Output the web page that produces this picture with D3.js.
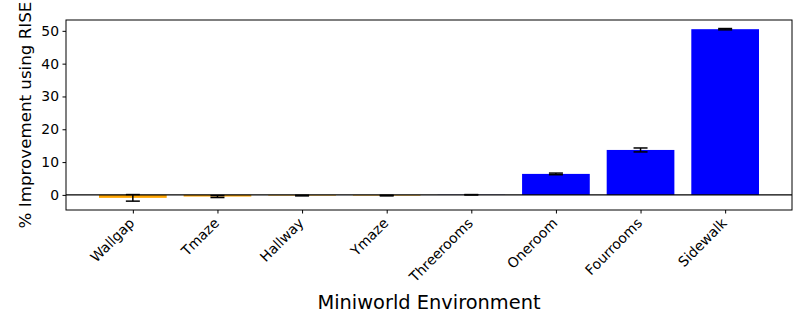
<!DOCTYPE html>
<html>
<head>
<meta charset="utf-8">
<script src="https://cdn.jsdelivr.net/npm/d3@7"></script>
<style>
  body { margin: 0; background: #fff; }
  text { font-family: "DejaVu Sans", sans-serif; fill: #000; }
</style>
</head>
<body>
<div class="chart"></div>
<script>
const width = 807;
const height = 314;
const margin = {top: 20, right: 15, bottom: 104, left: 66};

// data
const envs = ["Wallgap", "Tmaze", "Hallway", "Ymaze", "Threerooms", "Oneroom", "Fourrooms", "Sidewalk"];
const improvement = [-0.9, -0.5, -0.2, -0.2, 0.05, 6.4, 13.7, 50.5];
const errors = [1.0, 0.3, 0.1, 0.1, 0.05, 0.25, 0.6, 0.2];
const yTicks = [0, 10, 20, 30, 40, 50];

const svg = d3.select(".chart")
  .append("svg")
  .attr("width", width)
  .attr("height", height);

const x = d3.scaleLinear()
  .domain([-0.79, envs.length - 1 + 0.79])
  .range([margin.left, width - margin.right]);
const y = d3.scaleLinear()
  .domain([-4.6, 53.3])
  .range([height - margin.bottom, margin.top]);
const barW = x(0.8) - x(0);

//Bars
svg.selectAll(".bar")
  .data(envs)
  .enter()
  .append("rect")
  .attr("class", "bar")
  .attr("x", (d, i) => x(i) - barW / 2)
  .attr("y", (d, i) => y(Math.max(0, improvement[i])))
  .attr("width", barW)
  .attr("height", (d, i) => Math.abs(y(improvement[i]) - y(0)))
  .style("fill", (d, i) => improvement[i] < 0 ? "orange" : "blue");

//Zero line
svg.append("line")
  .attr("x1", margin.left).attr("x2", width - margin.right)
  .attr("y1", y(0)).attr("y2", y(0))
  .attr("stroke", "#000").attr("stroke-width", 1.2);

//Error bars
const eb = svg.selectAll(".err")
  .data(envs)
  .enter()
  .append("g")
  .attr("class", "err")
  .attr("stroke", "#000")
  .attr("stroke-width", 1.5);
eb.append("line")
  .attr("x1", (d, i) => x(i)).attr("x2", (d, i) => x(i))
  .attr("y1", (d, i) => y(improvement[i] - errors[i]))
  .attr("y2", (d, i) => y(improvement[i] + errors[i]));
[-1, 1].forEach(s => {
  eb.append("line")
    .attr("x1", (d, i) => x(i) - 7).attr("x2", (d, i) => x(i) + 7)
    .attr("y1", (d, i) => y(improvement[i] + s * errors[i]))
    .attr("y2", (d, i) => y(improvement[i] + s * errors[i]));
});

//Axes
const yAxis = d3.axisLeft(y).tickValues(yTicks).tickSize(3.5).tickPadding(3.5);
svg.append("g")
  .attr("transform", "translate(" + margin.left + ",0)")
  .call(yAxis)
  .call(g => g.select(".domain").remove())
  .call(g => g.selectAll("text").style("font-size", "13.9px"));

const xAxis = d3.axisBottom(x).tickValues(d3.range(envs.length)).tickFormat(i => envs[i]).tickSize(3.5);
svg.append("g")
  .attr("transform", "translate(0," + (height - margin.bottom) + ")")
  .call(xAxis)
  .call(g => g.select(".domain").remove())
  .call(g => g.selectAll("text")
    .style("font-size", "13.9px")
    .attr("text-anchor", "end")
    .attr("dy", null)
    .attr("y", 0)
    .attr("transform", "translate(2,14) rotate(-45)"));

//Frame
svg.append("rect")
  .attr("x", margin.left).attr("y", margin.top)
  .attr("width", width - margin.right - margin.left)
  .attr("height", height - margin.bottom - margin.top)
  .attr("fill", "none").attr("stroke", "#000").attr("stroke-width", 1);

//Axis titles
svg.append("text")
  .attr("x", (margin.left + width - margin.right) / 2)
  .attr("y", 309)
  .attr("text-anchor", "middle")
  .style("font-size", "19.4px")
  .text("Miniworld Environment");
svg.append("text")
  .attr("transform", "translate(31," + ((margin.top + height - margin.bottom) / 2) + ") rotate(-90)")
  .attr("text-anchor", "middle")
  .style("font-size", "16.7px")
  .text("% Improvement using RISE");
</script>
</body>
</html>
